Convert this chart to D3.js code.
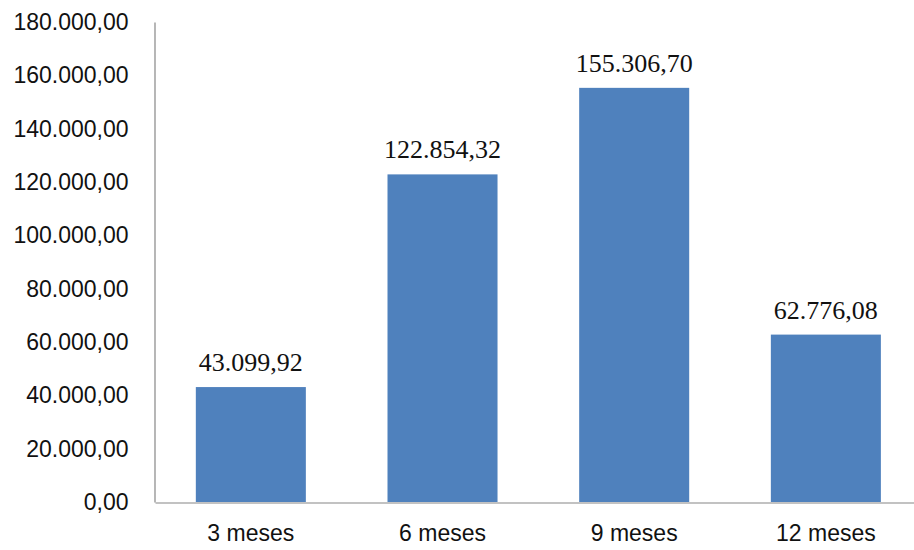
<!DOCTYPE html>
<html>
<head>
<meta charset="utf-8">
<script src="https://cdn.jsdelivr.net/npm/d3@7"></script>
<style>
  html, body { margin: 0; padding: 0; background: #fff; }
  svg { display: block; }
</style>
</head>
<body>
<script>
const categories = ["3 meses", "6 meses", "9 meses", "12 meses"];
const values = [43099.92, 122854.32, 155306.70, 62776.08];
const valueLabels = ["43.099,92", "122.854,32", "155.306,70", "62.776,08"];
const yTicks = [0, 20000, 40000, 60000, 80000, 100000, 120000, 140000, 160000, 180000];

const W = 914, H = 550;
const svg = d3.select("body").append("svg").attr("width", W).attr("height", H);

const x = d3.scaleBand().domain(categories).range([155, 921.7]).paddingInner(0.426).paddingOuter(0.213);
const y = d3.scaleLinear().domain([0, 180000]).range([502, 22]);

const fmt = v => {
  const s = v.toFixed(2).split(".");
  return s[0].replace(/\B(?=(\d{3})+(?!\d))/g, ".") + "," + s[1];
};

// bars
svg.append("g").selectAll("rect").data(values).join("rect")
  .attr("x", (d, i) => x(categories[i]))
  .attr("y", d => y(d))
  .attr("width", x.bandwidth())
  .attr("height", d => y(0) - y(d))
  .attr("fill", "#4F81BD");

// y axis
const yAxis = svg.append("g").attr("transform", "translate(154.5,0)")
  .call(d3.axisLeft(y).tickValues(yTicks).tickSize(0).tickPadding(26).tickFormat(fmt));
yAxis.select(".domain").attr("stroke", "#868686").attr("stroke-width", 1.2);
yAxis.selectAll("text").attr("font-family", "'Liberation Sans', Arial, sans-serif")
  .attr("font-size", "23px").attr("fill", "#111");

// x axis
const xAxis = svg.append("g").attr("transform", "translate(0,502.5)")
  .call(d3.axisBottom(x).tickSize(0).tickPadding(22));
xAxis.select(".domain").attr("stroke", "#868686").attr("stroke-width", 1.2);
xAxis.selectAll("text").attr("font-family", "'Liberation Sans', Arial, sans-serif")
  .attr("font-size", "23px").attr("fill", "#111");

// value labels
svg.append("g").selectAll("text").data(values).join("text")
  .attr("x", (d, i) => x(categories[i]) + x.bandwidth() / 2)
  .attr("y", d => y(d) - 16)
  .attr("text-anchor", "middle")
  .attr("font-family", "'Liberation Serif', 'Times New Roman', serif")
  .attr("font-size", "26px")
  .attr("fill", "#111")
  .text((d, i) => valueLabels[i]);
</script>
</body>
</html>
